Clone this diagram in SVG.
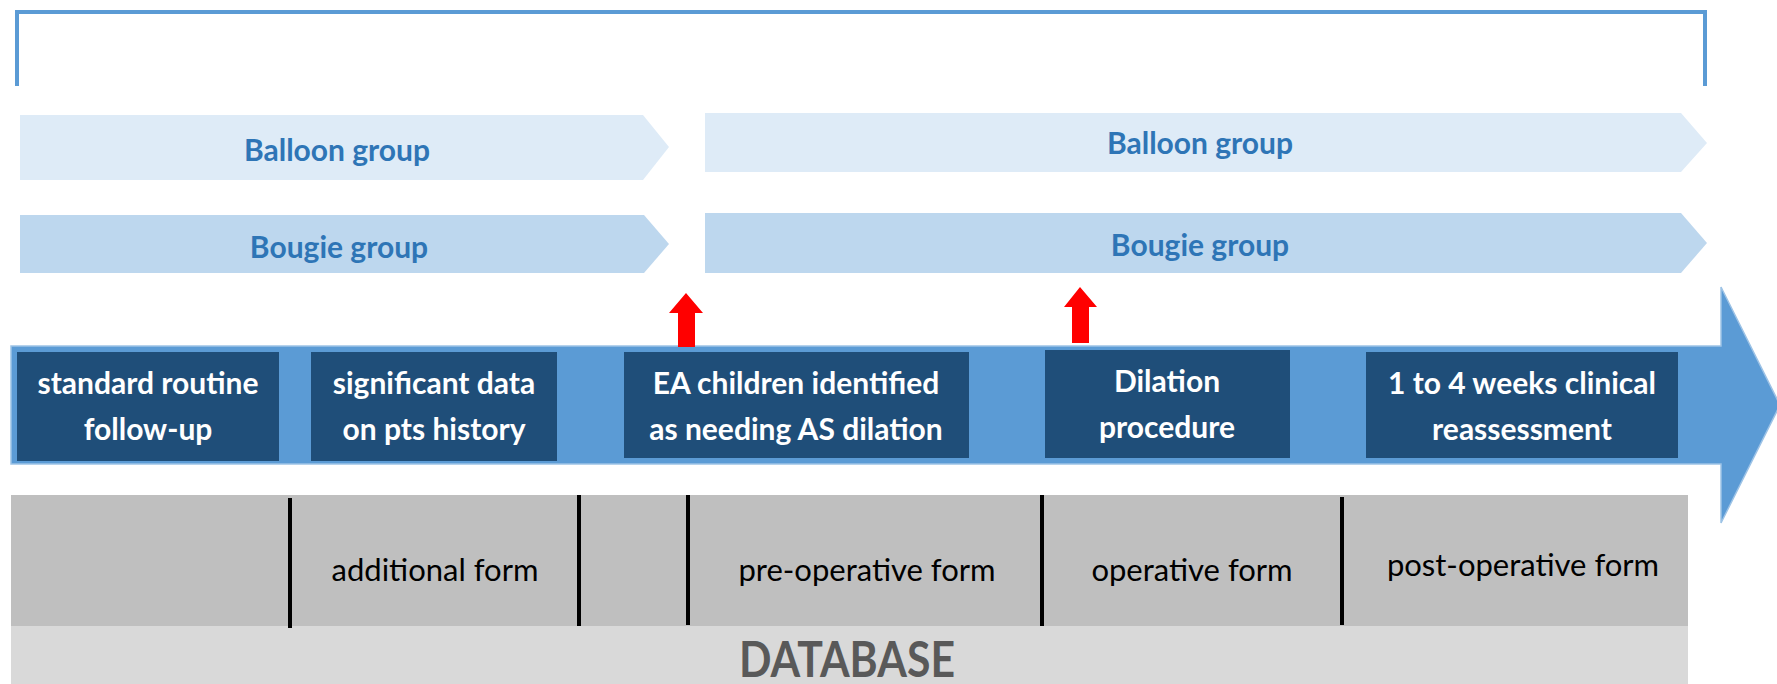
<svg xmlns="http://www.w3.org/2000/svg" width="1777" height="684" viewBox="0 0 1777 684">
<style>
.grp{font-family:Lato,"Open Sans",sans-serif;font-weight:bold;font-size:30px;fill:#2e75b6;text-anchor:middle}
.bal{fill:#deebf7}
.bou{fill:#bdd7ee}
.box{fill:#1f4e79}
.bt{font-family:Lato,"Open Sans",sans-serif;font-weight:bold;font-size:30px;fill:#ffffff;text-anchor:middle}
.ft{font-family:Lato,"Open Sans",sans-serif;font-weight:normal;font-size:31px;fill:#000000;text-anchor:middle}
.div{stroke:#000;stroke-width:4}
.red{fill:#ff0000}
</style>
<rect width="1777" height="684" fill="#ffffff"/>
<g id="bracket">
<path d="M17,86 L17,12 L1705,12 L1705,86" fill="none" stroke="#5b9bd5" stroke-width="4"/>
</g>
<g id="balloon-left"><polygon class="bal" points="20,115 643,115 669,147 643,180 20,180"/><text class="grp" x="337" y="161">Balloon group</text></g>
<g id="bougie-left"><polygon class="bou" points="20,215 644,215 669,244 644,273 20,273"/><text class="grp" x="339" y="258">Bougie group</text></g>
<g id="balloon-right"><polygon class="bal" points="705,113 1681,113 1707,143 1681,172 705,172"/><text class="grp" x="1200" y="154">Balloon group</text></g>
<g id="bougie-right"><polygon class="bou" points="705,213 1681,213 1707,243 1681,273 705,273"/><text class="grp" x="1200" y="256">Bougie group</text></g>
<g id="timeline">
<polygon points="11,346 1721,346 1721,287 1780,405 1721,523 1721,464 11,464" fill="#5b9bd5" stroke="#9dc3e6" stroke-width="1.5"/>
</g>
<g id="box1"><rect class="box" x="17" y="352" width="262" height="109"/><text class="bt" x="148" y="394">standard routine</text><text class="bt" x="148" y="440">follow-up</text></g>
<g id="box2"><rect class="box" x="311" y="352" width="246" height="109"/><text class="bt" x="434" y="394">significant data</text><text class="bt" x="434" y="440">on pts history</text></g>
<g id="box3"><rect class="box" x="624" y="352" width="345" height="106"/><text class="bt" x="796" y="394">EA children identified</text><text class="bt" x="796" y="440">as needing AS dilation</text></g>
<g id="box4"><rect class="box" x="1045" y="350" width="245" height="108"/><text class="bt" x="1167" y="392">Dilation</text><text class="bt" x="1167" y="438">procedure</text></g>
<g id="box5"><rect class="box" x="1366" y="352" width="312" height="106"/><text class="bt" x="1522" y="394">1 to 4 weeks clinical</text><text class="bt" x="1522" y="440">reassessment</text></g>
<g id="database">
<rect x="11" y="495" width="1677" height="131" fill="#bfbfbf"/>
<rect x="11" y="626" width="1677" height="58" fill="#d9d9d9"/>
<text x="847" y="677" font-family="Lato,'Open Sans',sans-serif" font-weight="bold" font-size="50" fill="#595959" text-anchor="middle" textLength="216" lengthAdjust="spacingAndGlyphs">DATABASE</text>
<line class="div" x1="290" y1="498" x2="290" y2="628"/>
<line class="div" x1="579" y1="495" x2="579" y2="626"/>
<line class="div" x1="688" y1="495" x2="688" y2="625"/>
<line class="div" x1="1042" y1="495" x2="1042" y2="626"/>
<line class="div" x1="1342" y1="497" x2="1342" y2="625"/>
<text class="ft" x="435" y="581">additional form</text>
<text class="ft" x="867" y="581">pre-operative form</text>
<text class="ft" x="1192" y="581">operative form</text>
<text class="ft" x="1523" y="576">post-operative form</text>
</g>
<g id="connectors">
<polygon class="red" points="678,347 678,313 669,313 686,293 703,313 695,313 695,347"/>
<polygon class="red" points="1072,343 1072,307 1064,307 1080,287 1097,307 1089,307 1089,343"/>
</g>
</svg>
